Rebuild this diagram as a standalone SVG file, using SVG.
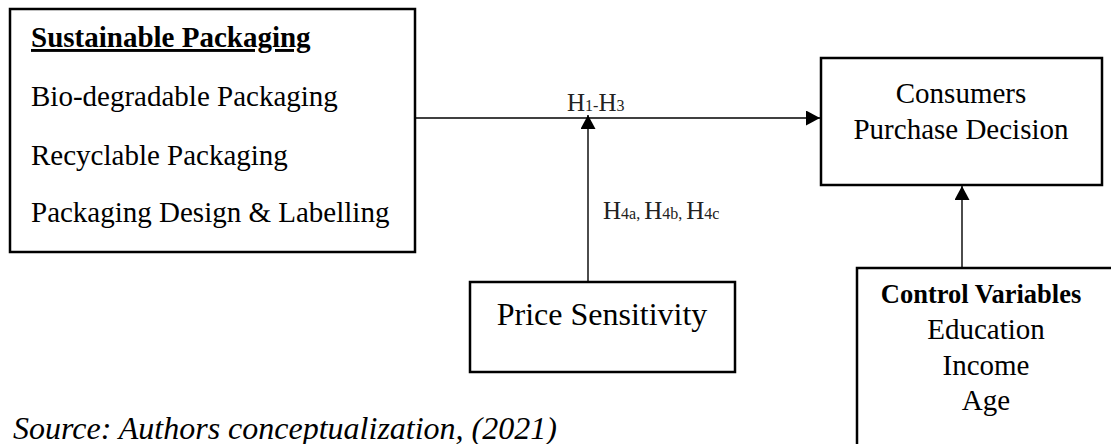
<svg xmlns="http://www.w3.org/2000/svg" width="1111" height="444" viewBox="0 0 1111 444">
  <style>
    .box { fill: #ffffff; stroke: #000000; stroke-width: 2.5; }
    .edge { fill: none; stroke: #000000; stroke-width: 1.4; }
    text { font-family: "Liberation Serif", "Times New Roman", serif; fill: #000000; }
    .t29 { font-size: 29px; }
    .bold { font-weight: bold; }
    .mid { text-anchor: middle; }
    .hyp { font-size: 25px; fill: #222222; }
    .sub { font-size: 16px; }
  </style>
  <defs>
    <marker id="arrow" viewBox="0 0 14 15" refX="14" refY="7.5" markerWidth="14" markerHeight="15" markerUnits="userSpaceOnUse" orient="auto">
      <path d="M0,0 L14,7.5 L0,15 Z" fill="#000000"/>
    </marker>
  </defs>

  <rect x="0" y="0" width="1111" height="444" fill="#ffffff"/>

  <!-- connectors -->
  <g id="connectors">
    <line class="edge" x1="416" y1="118" x2="820" y2="118" marker-end="url(#arrow)"/>
    <line class="edge" x1="588" y1="282" x2="588" y2="115" marker-end="url(#arrow)"/>
    <line class="edge" x1="962" y1="268" x2="962" y2="186" marker-end="url(#arrow)"/>
    <text class="hyp" x="567" y="111">H<tspan class="sub">1-</tspan>H<tspan class="sub">3</tspan></text>
    <text class="hyp" x="603" y="219" font-size="26">H<tspan class="sub" font-size="17">4a, </tspan>H<tspan class="sub" font-size="17">4b, </tspan>H<tspan class="sub" font-size="17">4c</tspan></text>
  </g>

  <!-- Sustainable Packaging -->
  <g id="sustainable-packaging">
    <rect class="box" x="10" y="9" width="405" height="243"/>
    <text class="t29 bold" x="31" y="47" text-decoration="underline">Sustainable Packaging</text>
    <text class="t29" x="31" y="106">Bio-degradable Packaging</text>
    <text class="t29" x="31" y="165">Recyclable Packaging</text>
    <text class="t29" x="31" y="222">Packaging Design &amp; Labelling</text>
  </g>

  <!-- Consumers Purchase Decision -->
  <g id="purchase-decision">
    <rect class="box" x="821" y="58" width="281" height="127"/>
    <text class="t29 mid" x="961" y="103">Consumers</text>
    <text class="t29 mid" x="961" y="139">Purchase Decision</text>
  </g>

  <!-- Price Sensitivity -->
  <g id="price-sensitivity">
    <rect class="box" x="470" y="282" width="265" height="90"/>
    <text class="mid" x="602" y="325" font-size="32">Price Sensitivity</text>
  </g>

  <!-- Control Variables -->
  <g id="control-variables">
    <rect class="box" x="857" y="268" width="260" height="190"/>
    <text class="bold mid" x="981" y="303" font-size="26.5">Control Variables</text>
    <text class="t29 mid" x="986" y="339">Education</text>
    <text class="t29 mid" x="986" y="375">Income</text>
    <text class="t29 mid" x="986" y="410">Age</text>
  </g>

  <!-- source note -->
  <text x="13" y="439" font-size="32" font-style="italic">Source: Authors conceptualization, (2021)</text>
</svg>
